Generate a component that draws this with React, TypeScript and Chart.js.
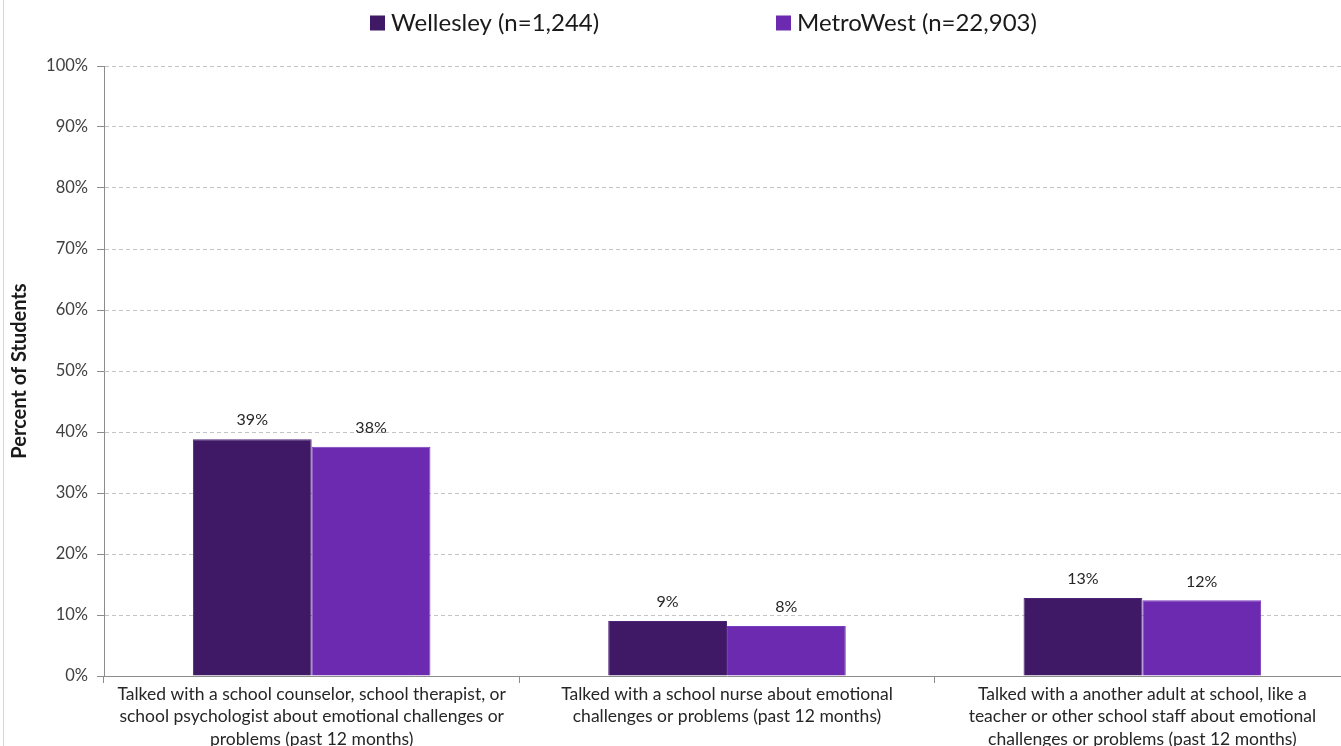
import React, { useEffect, useRef } from "react";
import { Chart, registerables } from "chart.js";

Chart.register(...registerables);

const categories: string[][] = [
  ["Talked with a school counselor, school therapist, or", "school psychologist about emotional challenges or", "problems (past 12 months)"],
  ["Talked with a school nurse about emotional", "challenges or problems (past 12 months)"],
  ["Talked with a another adult at school, like a", "teacher or other school staff about emotional", "challenges or problems (past 12 months)"],
];
const wellesleyValues = [38.8, 9.0, 12.8];
const metroWestValues = [37.6, 8.2, 12.4];
const wellesleyLabel = "Wellesley (n=1,244)";
const metroWestLabel = "MetroWest (n=22,903)";
const yTickValues = [0, 10, 20, 30, 40, 50, 60, 70, 80, 90, 100];

const FONT = "Lato, 'Open Sans', sans-serif";
const C_WELL = "#3f1966";
const C_METRO = "#6b2ab0";

const valueLabelPlugin = {
  id: "valueLabels",
  afterDatasetsDraw(chart: any) {
    const ctx = chart.ctx;
    ctx.save();
    ctx.font = `16px ${FONT}`;
    ctx.fillStyle = "#262626";
    ctx.textAlign = "center";
    ctx.textBaseline = "middle";
    chart.data.datasets.forEach((ds: any, di: number) => {
      const meta = chart.getDatasetMeta(di);
      meta.data.forEach((el: any, i: number) => {
        ctx.fillText(Math.round(ds.data[i]) + "%", el.x, el.y - 19);
      });
    });
    ctx.restore();
  },
};

const legendPlugin = {
  id: "customLegend",
  afterDraw(chart: any, _args: any, opts: any) {
    const ctx = chart.ctx;
    ctx.save();
    ctx.font = `24px ${FONT}`;
    ctx.textBaseline = "middle";
    ctx.textAlign = "left";
    chart.data.datasets.forEach((ds: any, di: number) => {
      const x = opts.starts[di];
      const y = opts.y;
      ctx.fillStyle = ds.backgroundColor;
      ctx.fillRect(x, y - 7.5, 15, 15);
      ctx.fillStyle = "#1a1a1a";
      ctx.fillText(ds.label, x + 21, y);
    });
    ctx.restore();
  },
};

export default function App() {
  const ref = useRef<HTMLCanvasElement | null>(null);

  useEffect(() => {
    if (!ref.current) return;
    const chart = new Chart(ref.current, {
      type: "bar",
      data: {
        labels: categories,
        datasets: [
          {
            label: wellesleyLabel,
            data: wellesleyValues,
            backgroundColor: C_WELL,
            borderColor: "#4d2478",
            borderWidth: 1,
          },
          {
            label: metroWestLabel,
            data: metroWestValues,
            backgroundColor: C_METRO,
            borderColor: "#7a3bbf",
            borderWidth: 1,
          },
        ],
      },
      plugins: [valueLabelPlugin, legendPlugin],
      options: {
        responsive: false,
        animation: false,
        layout: { padding: { top: 66, right: 0, left: 0, bottom: 0 } },
        datasets: {
          bar: { barPercentage: 1, categoryPercentage: 0.572 },
        },
        plugins: {
          legend: { display: false },
          tooltip: { enabled: false },
          customLegend: { starts: [366, 772], y: 23 },
        } as any,
        scales: {
          x: {
            offset: true,
            grid: {
              display: true,
              drawOnChartArea: false,
              drawTicks: true,
              tickLength: 7,
              tickColor: "#8c8c8c",
              offset: true,
            },
            border: { display: true, color: "#8c8c8c", width: 1 },
            ticks: {
              color: "#262626",
              font: { family: FONT, size: 17.5, lineHeight: 1.28 },
              padding: 0,
              maxRotation: 0,
              autoSkip: false,
            },
            afterFit(scale: any) {
              scale.height = 84;
            },
          },
          y: {
            min: 0,
            max: 100,
            afterBuildTicks(scale: any) {
              scale.ticks = yTickValues.map((v) => ({ value: v }));
            },
            grid: {
              color: "#c4c4c4",
              drawTicks: true,
              tickLength: 7,
              tickColor: "#8c8c8c",
              tickBorderDash: [],
            },
            border: { display: true, color: "#8c8c8c", width: 1, dash: [4, 3] },
            ticks: {
              color: "#404040",
              font: { family: FONT, size: 16.5 },
              padding: 9,
              callback: (v: any) => v + "%",
            },
            title: {
              display: true,
              text: "Percent of Students",
              color: "#1a1a1a",
              font: { family: FONT, size: 20, weight: "bold" },
              padding: { top: 4, bottom: 0 },
            },
            afterFit(scale: any) {
              scale.width = 100;
            },
          },
        },
      },
    });
    return () => chart.destroy();
  }, []);

  return (
    <div
      style={{
        position: "fixed",
        left: 3,
        top: 0,
        width: 1347,
        height: 760,
        borderLeft: "1px solid #d6d6d6",
        background: "#fff",
      }}
    >
      <canvas ref={ref} width={1346} height={760} style={{ display: "block" }} />
    </div>
  );
}
